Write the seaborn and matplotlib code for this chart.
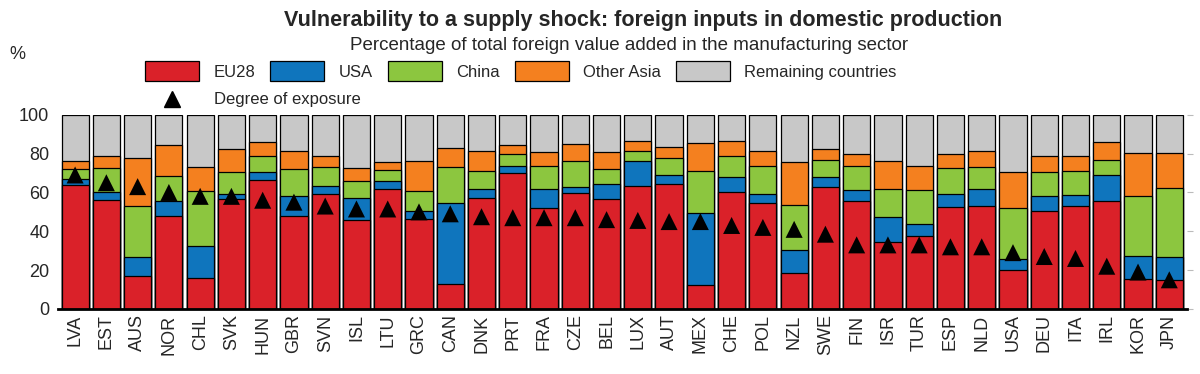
import numpy as np
import pandas as pd
import matplotlib
matplotlib.use("Agg")
import matplotlib.pyplot as plt
from matplotlib.patches import Patch
from matplotlib.lines import Line2D
import seaborn as sns

countries = ["LVA", "EST", "AUS", "NOR", "CHL", "SVK", "HUN", "GBR", "SVN", "ISL",
             "LTU", "GRC", "CAN", "DNK", "PRT", "FRA", "CZE", "BEL", "LUX", "AUT",
             "MEX", "CHE", "POL", "NZL", "SWE", "FIN", "ISR", "TUR", "ESP", "NLD",
             "USA", "DEU", "ITA", "IRL", "KOR", "JPN"]

# shares of foreign value added (%)
eu28 = [64, 56.3, 16.8, 48, 16, 56.6, 66.6, 48, 59.3, 45.6, 62, 46.3, 13, 57, 70, 52,
        59.7, 56.6, 63.1, 64.3, 12.2, 60.2, 54.5, 18.5, 62.8, 55.7, 34.5, 37.4, 52.5,
        52.8, 19.9, 50.3, 53.2, 55.4, 15.4, 14.8]
usa = [3, 3.7, 10.2, 7.4, 16.6, 2.7, 3.7, 10, 4.2, 11.4, 3.9, 4, 41.5, 4.7, 3.8, 9.7,
       3.3, 7.9, 13.2, 4.7, 37.2, 7.8, 4.7, 12, 5.2, 5.7, 12.8, 6.3, 6.7, 9.2, 5.8, 7.7,
       5.5, 13.6, 12, 12.2]
china = [5, 12.4, 25.8, 12.9, 27.9, 11.4, 8.6, 14.2, 9.4, 9, 5.8, 10.6, 18.4, 9.3, 5.8,
         11.7, 13.3, 7.5, 5.2, 8.9, 21.6, 10.9, 14.2, 23.2, 8.8, 12, 14.7, 17.7, 13.4,
         10.9, 26.3, 12.5, 12.5, 7.8, 30.6, 35.3]
other_asia = [4, 6.2, 24.9, 16.3, 12.4, 11.6, 6.9, 9.4, 6.1, 6.4, 3.9, 15.4, 9.9, 10.3,
              5.1, 7.4, 8.7, 8.8, 5.1, 5.3, 14.4, 7.4, 8.2, 22.1, 5.5, 6.5, 14, 12.4,
              7.3, 8.7, 18.5, 8.1, 7.4, 9.2, 22.3, 18]
remaining = [24, 21.4, 22.3, 15.4, 27.1, 17.7, 14.2, 18.4, 21, 27.6, 24.4, 23.7, 17.2,
             18.7, 15.3, 19.2, 15, 19.2, 13.4, 16.8, 14.6, 13.7, 18.4, 24.2, 17.7, 20.1,
             24, 26.2, 20.1, 18.4, 29.5, 21.4, 21.4, 14, 19.7, 19.7]
exposure = [69, 65, 63, 60, 58, 58, 56, 55, 53, 51.5, 51.5, 50, 49, 47.5, 47, 47, 47,
            46, 45.6, 45, 45, 43, 42, 41, 38.5, 33, 33, 33, 32, 32, 29, 27, 26, 22, 19, 15]

series = ["EU28", "USA", "China", "Other Asia", "Remaining countries"]
colors = ["#DA2129", "#0F75BD", "#8CC63F", "#F4801F", "#C8C8C8"]

df = pd.DataFrame({"country": countries, "EU28": eu28, "USA": usa, "China": china,
                   "Other Asia": other_asia, "Remaining countries": remaining,
                   "exposure": exposure})

sns.set_style("white")
plt.rcParams["font.family"] = ["Liberation Sans", "DejaVu Sans"]

fig = plt.figure(figsize=(12, 3.74), dpi=100)
ax = fig.add_axes([0.048, 0.174, 0.941, 0.519])

# stacked bars: draw cumulative totals from the top layer down
cum = df[series].cumsum(axis=1)
for s, c in reversed(list(zip(series, colors))):
    sns.barplot(x=df["country"], y=cum[s], color=c, width=0.87, edgecolor="black",
                linewidth=0.9, ax=ax, saturation=1)

sns.scatterplot(x=df["country"], y=df["exposure"], marker="^", s=150, color="black",
                edgecolor="none", ax=ax, zorder=5)

ax.set_xlim(-0.56, len(countries) - 0.44)
ax.set_ylim(0, 100)
ax.set_yticks([0, 20, 40, 60, 80, 100])
ax.set_xlabel("")
ax.set_ylabel("")
ax.tick_params(axis="x", rotation=90, labelsize=13, length=0, pad=4)
ax.tick_params(axis="y", labelsize=13, left=False, right=True, length=4,
               color="#BBBBBB", pad=2)
for side in ["top", "left", "right"]:
    ax.spines[side].set_visible(False)
ax.spines["bottom"].set_linewidth(2)
ax.spines["bottom"].set_color("black")

fig.text(0.536, 0.945, "Vulnerability to a supply shock: foreign inputs in domestic production",
         ha="center", va="center", fontsize=15.5, fontweight="bold")
fig.text(0.524, 0.878, "Percentage of total foreign value added in the manufacturing sector",
         ha="center", va="center", fontsize=13.5)
fig.text(0.008, 0.855, "%", ha="left", va="center", fontsize=13)

handles = [Patch(facecolor=c, edgecolor="black", linewidth=0.9) for c in colors]
fig.legend(handles, series, loc="center left", bbox_to_anchor=(0.121, 0.81),
           ncol=5, frameon=False, fontsize=12, handlelength=3.25, handleheight=1.45,
           columnspacing=0.9, handletextpad=0.85, borderaxespad=0, borderpad=0)
tri = Line2D([], [], marker="^", color="black", linestyle="none", markersize=12)
fig.legend([tri], ["Degree of exposure"], loc="center left",
           bbox_to_anchor=(0.121, 0.733), frameon=False, fontsize=12,
           handlelength=3.25, handletextpad=0.85, borderaxespad=0, borderpad=0)

fig.savefig("out.png", dpi=100)
